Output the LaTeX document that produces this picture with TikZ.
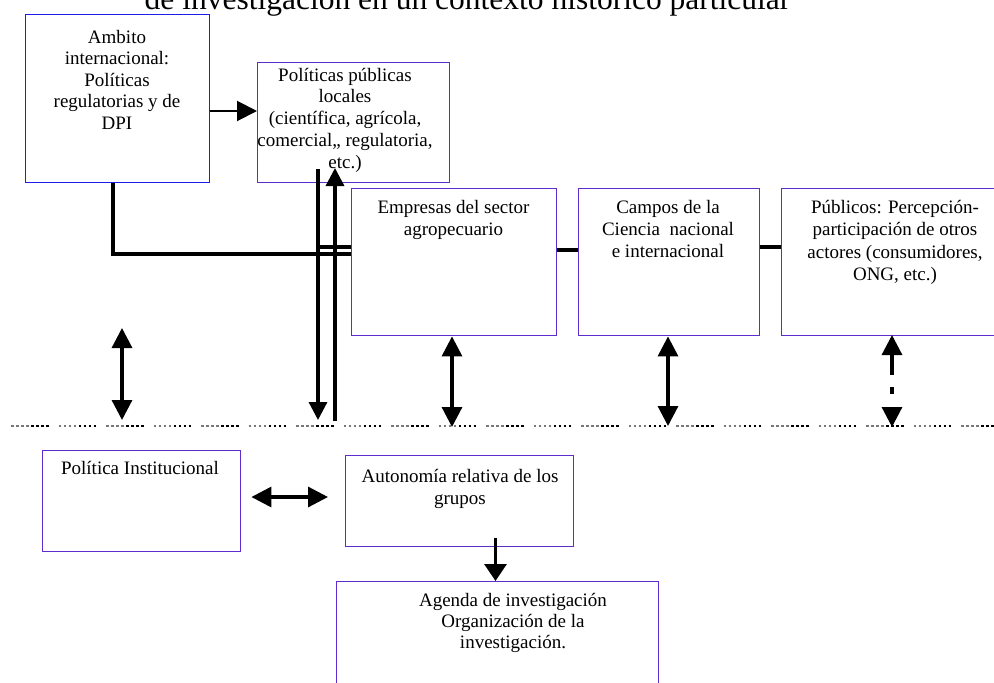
\documentclass[tikz,border=0pt]{standalone}
\usepackage{fontspec}
\setmainfont{Liberation Serif}
\usetikzlibrary{arrows.meta,calc}
\definecolor{boxblue}{RGB}{30,30,235}
\definecolor{boxpurple}{RGB}{95,45,205}
\definecolor{dotgray}{RGB}{120,120,120}
\begin{document}
\begin{tikzpicture}[x=1pt,y=-1pt,
  box/.style={draw=boxpurple, line width=1.4pt, inner sep=0pt, anchor=north west},
  txt/.style={font=\fontsize{19}{21.5}\selectfont, align=center, anchor=north, inner sep=0pt},
  link/.style={line width=3.2pt},
  thinlink/.style={line width=2pt},
  headend/.style={-{Triangle[length=20pt,width=20pt]}},
  headboth/.style={{Triangle[length=20pt,width=20pt]}-{Triangle[length=20pt,width=20pt]}},
]
\clip (0,0) rectangle (994,683);

% heading, partly above the page edge
\node[font=\fontsize{31.5}{36}\selectfont, anchor=base, inner sep=0pt] (title) at (467.5,9.5)
  {de investigación en un contexto histórico particular};

% boxes
\node[box, draw=boxblue, minimum width=184pt, minimum height=168pt] (amb) at (25,14) {};
\node[box, minimum width=192pt, minimum height=120pt] (pol) at (257,62) {};
\node[box, minimum width=205pt, minimum height=147pt] (emp) at (351,188) {};
\node[box, minimum width=181pt, minimum height=147pt] (cam) at (578,188) {};
\node[box, minimum width=230pt, minimum height=147pt] (pub) at (781,188) {};
\node[box, minimum width=198pt, minimum height=101pt] (pin) at (42,450) {};
\node[box, minimum width=228pt, minimum height=91pt] (aut) at (345,455) {};
\node[box, minimum width=322pt, minimum height=120pt] (age) at (336,581) {};

% box texts
\node[txt] (ambT) at (117,28) {\rule{0pt}{15pt}Ambito\\internacional:\\Políticas\\regulatorias y de\\DPI};
\node[txt, font=\fontsize{19}{21.7}\selectfont] (polT) at (345,66) {\rule{0pt}{15pt}Políticas públicas\\locales\\(científica, agrícola,\\comercial,, regulatoria,\\etc.)};
\node[txt, font=\fontsize{19}{22.5}\selectfont] (empT) at (453.5,198) {\rule{0pt}{15pt}Empresas del sector\\agropecuario};
\node[txt, font=\fontsize{19}{22}\selectfont] (camT) at (668,198) {\rule{0pt}{15pt}Campos de la\\Ciencia\ \ nacional\\e internacional};
\node[txt, font=\fontsize{19}{22.5}\selectfont] (pubT) at (895,198) {\rule{0pt}{15pt}Públicos: Percepción-\\participación de otros\\actores (consumidores,\\ONG, etc.)};
\node[txt] (pinT) at (140,459) {\rule{0pt}{15pt}Política Institucional};
\node[txt, font=\fontsize{19}{22}\selectfont] (autT) at (460,467) {\rule{0pt}{15pt}Autonomía relativa de los\\grupos};
\node[txt, font=\fontsize{19}{21}\selectfont] (ageT) at (513,591) {\rule{0pt}{15pt}Agenda de investigación\\Organización de la\\investigación.};

% dotted separator
\coordinate (sepL) at (11,426);
\coordinate (sepR) at (994,426);
\coordinate (sepLb) at (31,426);
\draw[dotgray, line width=2pt, dash pattern=on 2.5pt off 2.5pt on 2.5pt off 2.5pt on 2.5pt off 2.5pt on 2.5pt off 30pt] (sepL) -- (sepR);
\draw[black, line width=2pt, dash pattern=on 2.5pt off 2.5pt on 2.5pt off 2.5pt on 2.5pt off 2.5pt on 2.5pt off 30pt] (sepLb) -- (sepR);

% international sphere to local policies
\draw[thinlink, headend] (amb.east |- 0,111) -- (pol.west |- 0,111);

% international sphere to agricultural firms
\draw[link] (amb.south -| 113,0) -- (113,254) -- (emp.west |- 0,254);
\draw[link] (318,247) -- (emp.west |- 0,247);

% local policies down to the separator and back up
\coordinate (polDown) at (318,420);
\coordinate (polUp) at (335,421);
\draw[link, -{Triangle[length=18pt,width=18pt]}] (pol.south -| 318,0) ++(0,-14) -- (polDown);
\draw[link, -{Triangle[length=18pt,width=18pt]}] (polUp) -- (335,168);

% links between the three upper boxes
\draw[link] (emp.east |- 0,250) -- (cam.west |- 0,250);
\draw[link] (cam.east |- 0,247) -- (pub.west |- 0,247);

% two-way arrows to the separator
\coordinate (lA) at (122,328);
\coordinate (lB) at (122,420);
\draw[link, headboth] (lA) -- (lB);
\coordinate (empB) at (452,427);
\draw[link, headboth] (emp.south -| empB) -- (empB);
\coordinate (camB) at (668,426);
\draw[link, headboth] (cam.south -| camB) -- (camB);
\coordinate (pubA) at (892,335);
\coordinate (pubB) at (892,427);
\draw[link, headboth, dash pattern=on 21pt off 12pt on 7pt off 40pt] (pubA) -- (pubB);

% lower level
\draw[link, headboth] ([xshift=10pt]pin.east |- 0,497) -- ([xshift=-17pt]aut.west |- 0,497);
\draw[link, -{Triangle[length=17pt,width=22pt]}] (495.5,538) -- (age.north -| 495.5,0);
\end{tikzpicture}
\end{document}
